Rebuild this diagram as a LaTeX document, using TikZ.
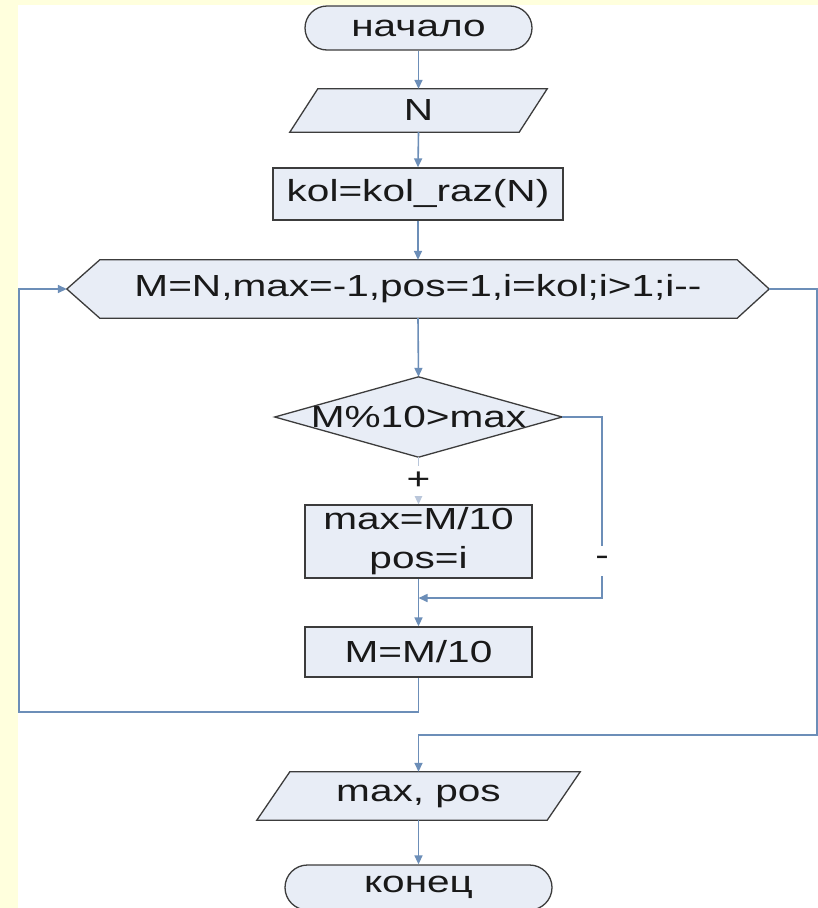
\documentclass[tikz,border=0pt]{standalone}
\usepackage{fontspec}
\setmainfont{Liberation Sans}[FakeStretch=1.33,Ligatures=TeXOff]
\usetikzlibrary{arrows.meta,calc,backgrounds}
\definecolor{pagebg}{RGB}{255,255,221}
\definecolor{shapefill}{RGB}{232,237,246}
\definecolor{shapeline}{RGB}{60,60,60}
\definecolor{flow}{RGB}{108,142,184}
\definecolor{flowfaint}{RGB}{185,198,218}
\begin{document}
\begin{tikzpicture}[x=1pt,y=-1pt,
  every node/.style={font=\fontsize{30.5}{39}\selectfont, text=black!90, inner sep=0pt},
  term/.style={draw=shapeline, fill=shapefill, line width=1.3pt, rounded corners=22pt, minimum height=44pt},
  proc/.style={draw=shapeline, fill=shapefill, line width=1.3pt},
  outline/.style={draw=shapeline, fill=shapefill, line width=1.3pt, line join=miter},
  flowline/.style={draw=flow, line width=1.6pt},
  tip/.style={-{Triangle[length=9pt,width=8pt]}},
  lbl/.style={fill=white, inner sep=2pt, minimum height=30pt}
]
\useasboundingbox (0,0) rectangle (818,908);

% text areas of the blocks
\node[term, minimum width=227pt] (start) at (418.5,28) {начало};
\node[minimum width=257pt, minimum height=43pt] (inp) at (418.5,110.5) {N};
\node[proc, minimum width=290pt, minimum height=52pt] (kol) at (418,194) {kol=kol\_raz(N)};
\node[minimum width=702pt, minimum height=58pt] (loop) at (418,289) {M=N,max=-1,pos=1,i=kol;i>1;i-{}-};
\node[minimum width=287pt, minimum height=80pt] (cond) at (418.5,417) {M\%10>max};
\node[proc, minimum width=227pt, minimum height=73pt, align=center] (upd) at (418.5,541.5) {max=M/10\\pos=i};
\node[proc, minimum width=227pt, minimum height=50pt] (div) at (418.5,652) {M=M/10};
\node[minimum width=323pt, minimum height=48pt] (out) at (418.5,796) {max, pos};
\node[term, minimum width=267pt, minimum height=45pt, rounded corners=22.5pt] (stop) at (418.5,887.5) {конец};

% page and the outlines of the non-rectangular blocks
\begin{scope}[on background layer]
  \fill[pagebg] (0,0) rectangle (818,908);
  \fill[white] (18,5) rectangle (818,908);
  \path[outline] ($(inp.north west)+(28,0)$) -- (inp.north east)
    -- ($(inp.south east)+(-28,0)$) -- (inp.south west) -- cycle;
  \path[outline] (loop.west) -- ($(loop.north west)+(33,0)$)
    -- ($(loop.north east)+(-32,0)$) -- (loop.east)
    -- ($(loop.south east)+(-32,0)$) -- ($(loop.south west)+(33,0)$) -- cycle;
  \path[outline] (cond.north) -- (cond.east) -- (cond.south) -- (cond.west) -- cycle;
  \path[outline] ($(out.north west)+(33,0)$) -- (out.north east)
    -- ($(out.south east)+(-33,0)$) -- (out.south west) -- cycle;
\end{scope}

% connectors
\coordinate (join) at (418.5,598);
\coordinate (skipcol) at (602,598);
\coordinate (backbl) at (19,712);
\coordinate (exitbr) at (817,735);

\draw[flowline,tip] (start.south) -- (inp.north);
\draw[flowline,tip] (inp.south) -- (kol.north);
\draw[flowline,tip] (kol.south) -- (loop.north);
\draw[flowline,tip] (loop.south) -- (cond.north);
\draw[flowline,draw=flowfaint,tip] (cond.south) -- node[lbl] {+} (upd.north);
\draw[flowline,tip] (cond.east) -| node[lbl,pos=0.898] {-} (skipcol) -- (join);
\draw[flowline,tip] (upd.south) -- (div.north);
\draw[flowline,tip] (div.south) |- (backbl) |- (loop.west);
\draw[flowline,tip] (loop.east) -| (exitbr) -| (out.north);
\draw[flowline,tip] (out.south) -- (stop.north);
\end{tikzpicture}
\end{document}
